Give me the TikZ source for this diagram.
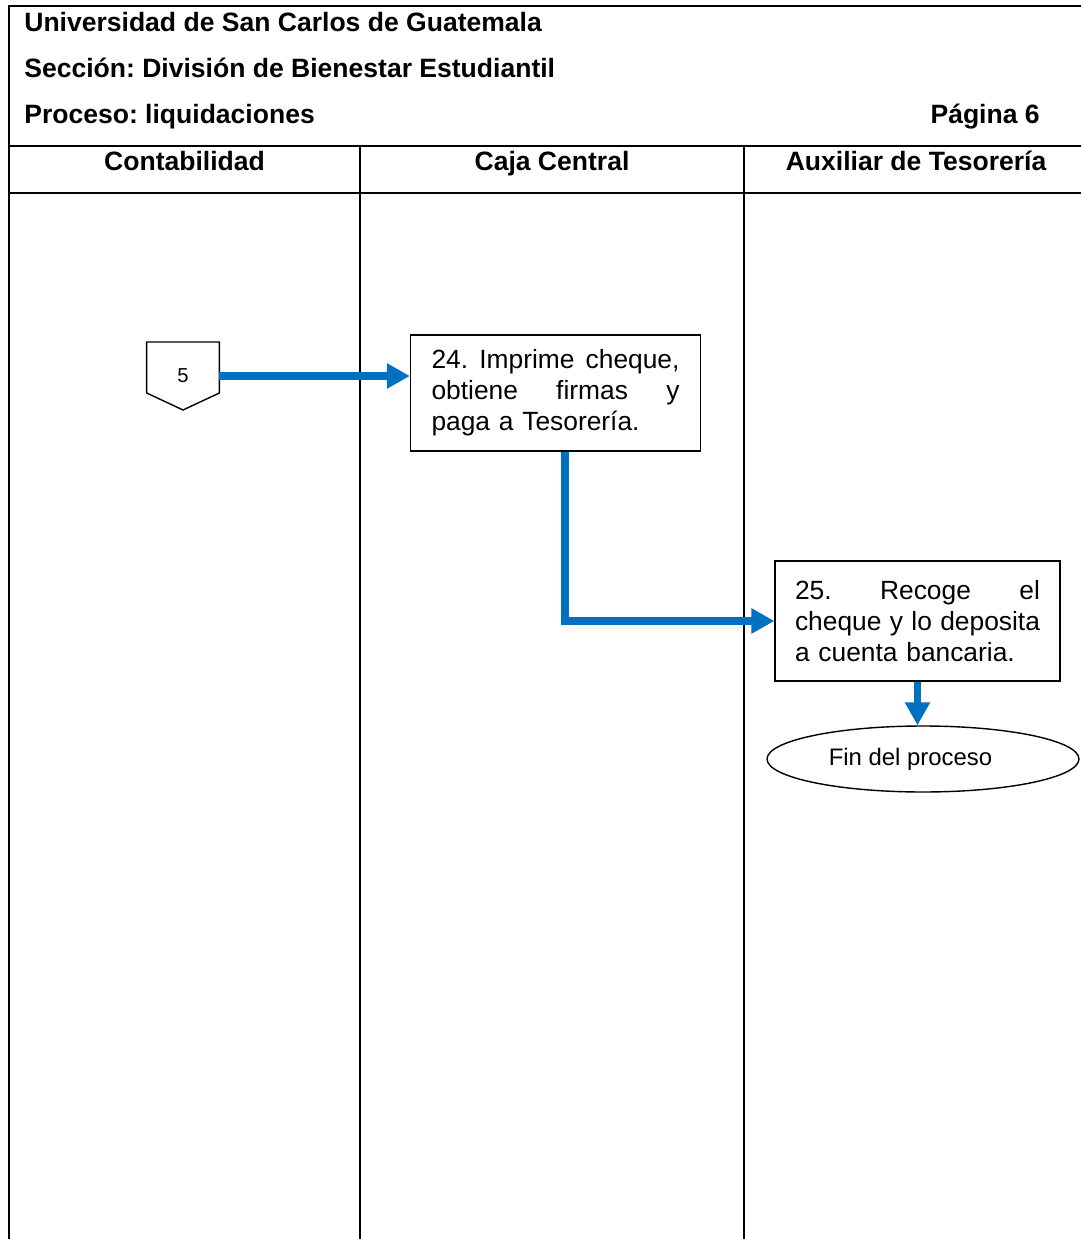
\documentclass[tikz,border=0pt]{standalone}
\usepackage{fontspec}
\setmainfont{Liberation Sans}
\usepackage{xcolor}
\usetikzlibrary{calc, shapes.geometric, arrows.meta, positioning}
\definecolor{azul}{HTML}{0070C0}
\frenchspacing

\begin{document}
\begin{tikzpicture}[x=0.02cm, y=-0.02cm,
    font=\fontsize{15}{17.6}\selectfont,
    marco/.style={line width=1.1pt},
    titulo/.style={font=\fontsize{15.1}{17}\selectfont\bfseries, inner sep=0pt},
    paso/.style={draw, line width=0.8pt, align=left, inner ysep=0pt},
    flecha/.style={draw=azul, line width=4pt, line join=miter, -{Triangle[length=0.46cm, width=0.48cm]}}]
    \useasboundingbox (0,0) rectangle (1081,1239);

    % Encabezado y carriles
    \draw[marco] (1081,6) -- (9,6) -- (9,1239);
    \draw[marco] (9,146) -- (1081,146);
    \draw[marco] (9,193) -- (1081,193);
    \draw[marco] (360,146) -- (360,1239);
    \draw[marco] (744,146) -- (744,1239);

    \node[titulo, anchor=base west] (univ) at (24,32) {Universidad de San Carlos de Guatemala};
    \node[titulo, anchor=base west] (secc) at (24,78) {Sección: División de Bienestar Estudiantil};
    \node[titulo, anchor=base west] (proc) at (24,124) {Proceso: liquidaciones};
    \node[titulo, anchor=base east] (pag) at (1040,124) {Página 6};

    \node[titulo, anchor=base] (cont) at (184.5,171) {Contabilidad};
    \node[titulo, anchor=base] (caja) at (552,171) {Caja Central};
    \node[titulo, anchor=base] (aux) at (916,171) {Auxiliar de Tesorería};

    % Conector de página
    \node[minimum width=1.44cm, inner sep=0pt, font=\fontsize{11.5}{13}\selectfont] (c5) at (183,376) {5};
    \draw[line width=0.8pt] ($(c5.west)+(0,-34)$) -- ($(c5.east)+(0,-34)$) -- ($(c5.east)+(0,17)$)
        -- ($(c5.center)+(0,34)$) -- ($(c5.west)+(0,17)$) -- cycle;

    % Pasos
    \node[paso, text width=4.96cm, inner xsep=0.42cm, minimum height=2.32cm] (p24) at (555.5,393)
        {\makebox[4.96cm][l]{24.\hfill Imprime\hfill cheque,}\\
         \makebox[4.96cm][l]{obtiene\hfill firmas\hfill y}\\
         paga a Tesorería.};
    \node[paso, text width=4.9cm, inner xsep=0.4cm, minimum height=2.4cm] (p25) at (917.5,621)
        {\makebox[4.9cm][l]{25.\hfill Recoge\hfill el}\\
         \makebox[4.9cm][l]{cheque\hfill y\hfill lo\hfill deposita}\\
         a cuenta bancaria.};
    \node[ellipse, draw, line width=0.8pt, minimum width=6.24cm, minimum height=1.32cm, inner sep=0pt,
        font=\fontsize{13.6}{16}\selectfont] (fin) at (923,759) {\hspace*{-0.5cm}Fin del proceso};

    % Flechas
    \draw[flecha] (c5.east) -- (c5.east -| p24.west);
    \draw[flecha] ($(p24.south)+(9.5,0)$) |- (p25.west);
    \draw[flecha] (p25.south) -- (p25.south |- fin.north);
\end{tikzpicture}
\end{document}
